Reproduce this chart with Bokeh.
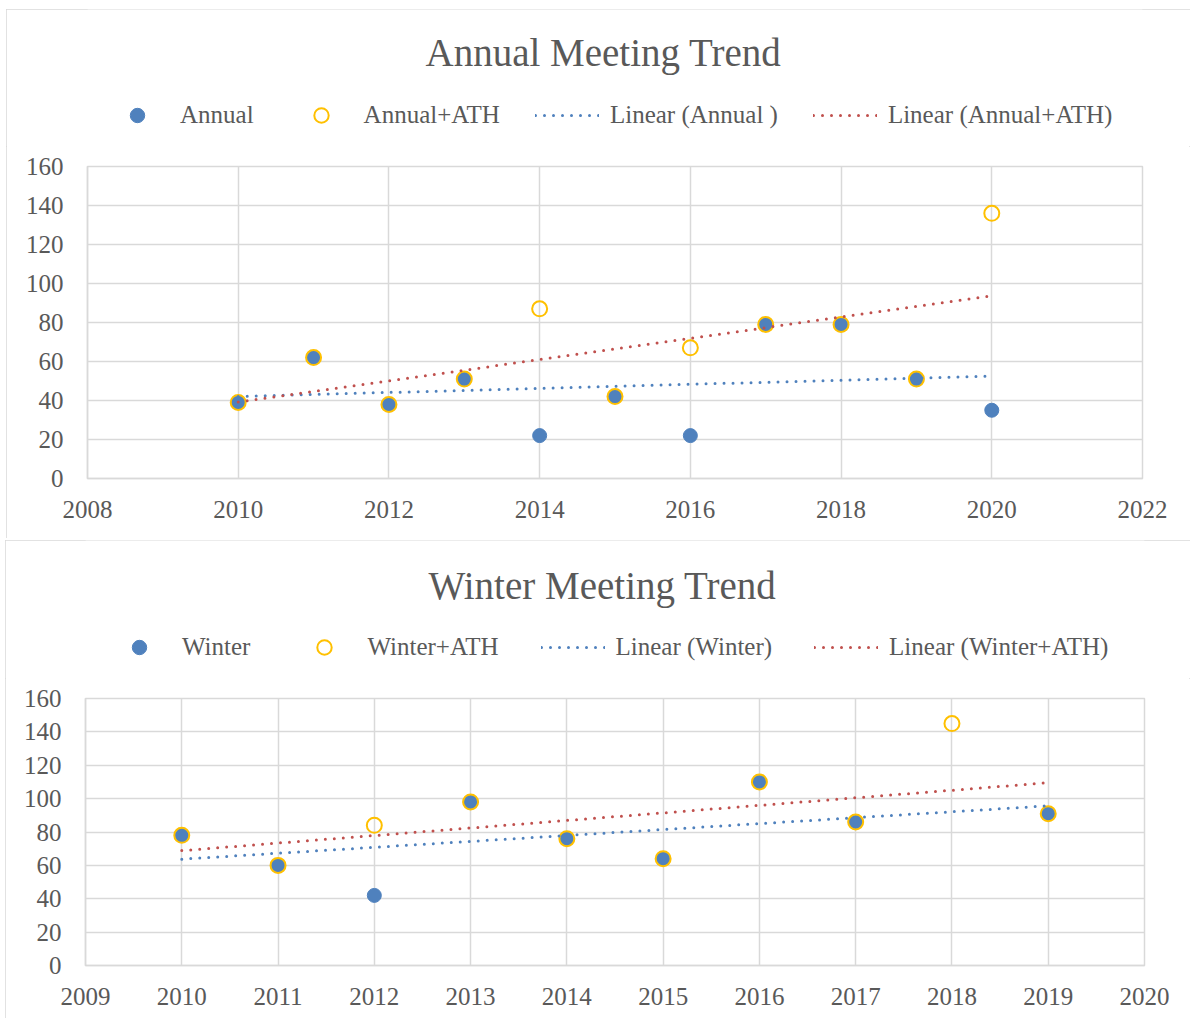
import numpy as np
from bokeh.plotting import figure
from bokeh.models import Legend, LegendItem, Label, FixedTicker, Range1d, ColumnDataSource, Spacer
from bokeh.layouts import column, row
from bokeh.embed import file_html
from bokeh.resources import INLINE

# ---------------- data ----------------
annual_years = [2010, 2011, 2012, 2013, 2014, 2015, 2016, 2017, 2018, 2019, 2020]
annual = [39, 62, 38, 51, 22, 42, 22, 79, 79, 51, 35]
annual_ath = [39, 62, 38, 51, 87, 42, 67, 79, 79, 51, 136]

winter_years = [2010, 2011, 2012, 2013, 2014, 2015, 2016, 2017, 2018, 2019]
winter = [78, 60, 42, 98, 76, 64, 110, 86, None, 91]
winter_ath = [78, 60, 84, 98, 76, 64, 110, 86, 145, 91]

annual_xticks = [2008, 2010, 2012, 2014, 2016, 2018, 2020, 2022]
winter_xticks = [2009, 2010, 2011, 2012, 2013, 2014, 2015, 2016, 2017, 2018, 2019, 2020]
y_ticks = [0, 20, 40, 60, 80, 100, 120, 140, 160]

FONT = "Liberation Serif"
TXT = "#595959"
GRID = "#d9d9d9"
BLUE = "#4f81bd"
RED = "#c0504d"
GOLD = "#ffc000"

S1 = dict(size=14, fill_color=BLUE, line_color=BLUE, line_width=1)
S2 = dict(size=15, fill_color=None, line_color=GOLD, line_width=2)
L1 = dict(line_color=BLUE, line_width=3, line_dash="0 9", line_cap="round")
L2 = dict(line_color=RED, line_width=3, line_dash="0 9", line_cap="round")


def trend(xs, ys):
    x = np.array(xs, dtype=float)
    y = np.array([np.nan if v is None else v for v in ys], dtype=float)
    m = ~np.isnan(y)
    k, b = np.polyfit(x[m], y[m], 1)
    tx = np.array([x[m].min(), x[m].max()])
    return dict(x=tx, y=k * tx + b)


def sources(years, s1, s2):
    y1 = [np.nan if v is None else v for v in s1]
    y2 = [np.nan if v is None else v for v in s2]
    pts = ColumnDataSource(dict(x=years, y1=y1, y2=y2))
    t1 = ColumnDataSource(trend(years, s1))
    t2 = ColumnDataSource(trend(years, s2))
    return pts, t1, t2


def make_header(title, names, srcs, w, h, title_xy, legend_xy, spacing):
    pts, t1, t2 = srcs
    hd = figure(width=w, height=h, output_backend="svg", toolbar_location=None,
                x_axis_location=None, y_axis_location=None,
                x_range=Range1d(0, 1), y_range=Range1d(0, 1),
                min_border=0)
    hd.grid.visible = False
    hd.outline_line_color = None
    hd.background_fill_color = "white"
    hd.border_fill_color = "white"
    # legend keys: same series, outside this header's (0..1) view so only the key shows
    r1 = hd.scatter("x", "y1", source=pts, **S1)
    r2 = hd.scatter("x", "y2", source=pts, **S2)
    r3 = hd.line("x", "y", source=t1, **L1)
    r4 = hd.line("x", "y", source=t2, **L2)
    legend = Legend(items=[LegendItem(label=n, renderers=[r]) for n, r in zip(names, [r1, r2, r3, r4])],
                    location=legend_xy, orientation="horizontal")
    legend.label_text_font = FONT
    legend.label_text_font_size = "25px"
    legend.label_text_color = TXT
    legend.border_line_color = None
    legend.background_fill_alpha = 0
    legend.glyph_width = 64
    legend.glyph_height = 36
    legend.label_height = 24
    legend.label_standoff = 11
    legend.spacing = spacing
    legend.padding = 0
    legend.margin = 0
    hd.add_layout(legend, "center")
    hd.add_layout(Label(x=title_xy[0], y=title_xy[1], x_units="screen", y_units="screen",
                        text=title, text_font=FONT, text_font_size="39px", text_color=TXT,
                        text_align="center", text_baseline="alphabetic"))
    return hd


def make_chart(srcs, xr, xticks, w, h, mb):
    pts, t1, t2 = srcs
    p = figure(width=w, height=h, output_backend="svg", toolbar_location=None,
               x_range=Range1d(*xr), y_range=Range1d(0, 160),
               min_border_left=mb[0], min_border_right=mb[1],
               min_border_top=mb[2], min_border_bottom=mb[3])
    p.background_fill_color = "white"
    p.border_fill_color = "white"
    p.outline_line_color = GRID
    p.outline_line_width = 1.5

    p.xaxis.ticker = FixedTicker(ticks=xticks)
    p.yaxis.ticker = FixedTicker(ticks=y_ticks)
    for ax in (p.xaxis, p.yaxis):
        ax.axis_line_color = GRID
        ax.axis_line_width = 1.5
        ax.major_tick_line_color = None
        ax.minor_tick_line_color = None
        ax.major_label_text_font = FONT
        ax.major_label_text_font_size = "25px"
        ax.major_label_text_color = TXT
    p.xaxis.major_label_standoff = 16
    p.yaxis.major_label_standoff = 18
    p.xgrid.grid_line_color = GRID
    p.ygrid.grid_line_color = GRID
    p.xgrid.grid_line_width = 1.5
    p.ygrid.grid_line_width = 1.5

    p.scatter("x", "y1", source=pts, **S1)
    p.scatter("x", "y2", source=pts, **S2)
    p.line("x", "y", source=t1, **L1)
    p.line("x", "y", source=t2, **L2)
    return p


OUT = {"outline": "1.5px solid #d9d9d9", "outline-offset": "-1.5px"}

src1 = sources(annual_years, annual, annual_ath)
src2 = sources(winter_years, winter, winter_ath)

h1 = make_header("Annual Meeting Trend",
                 ["Annual", "Annual+ATH", "Linear (Annual )", "Linear (Annual+ATH)"],
                 src1, 1184, 137, (516, 94), (18, 13), 35)
c1 = make_chart(src1, (2008, 2022), annual_xticks, 1184, 392, (81, 48, 20, 60))
h2 = make_header("Winter Meeting Trend",
                 ["Winter", "Winter+ATH", "Linear (Winter)", "Linear (Winter+ATH)"],
                 src2, 1185, 138, (517, 93), (22, 13), 42)
c2 = make_chart(src2, (2009, 2020), winter_xticks, 1185, 340, (80, 46, 20, 53))

panel1 = column(h1, c1, spacing=0, styles=OUT)
panel2 = column(h2, c2, spacing=0, styles=OUT)

layout = column(Spacer(height=9),
                row(Spacer(width=6), panel1, spacing=0),
                Spacer(height=2),
                row(Spacer(width=5), panel2, spacing=0),
                spacing=0)
open("out.html", "w").write(file_html(layout, INLINE))
